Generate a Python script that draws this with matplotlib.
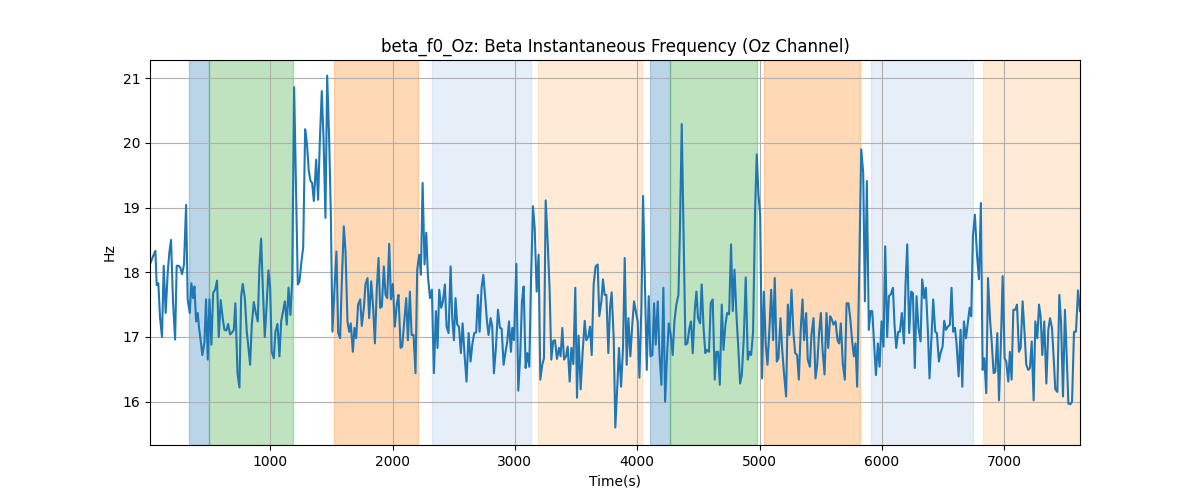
import matplotlib
matplotlib.use("Agg")
import matplotlib.pyplot as plt

time_s = [
    21, 48, 62, 73, 86, 100, 116, 130, 146, 163, 176, 190, 206, 223, 236, 253, 266, 280, 296, 313,
    326, 343, 356, 370, 381, 395, 408, 419, 433, 446, 463, 476, 490, 504, 520, 534, 550, 566, 580, 596,
    613, 626, 643, 656, 673, 689, 703, 716, 733, 749, 763, 776, 793, 809, 823, 836, 850, 866, 883, 899,
    912, 926,
    940, 956, 970, 986, 1000, 1013, 1030, 1043, 1060, 1076, 1090, 1106, 1120, 1136, 1150, 1166, 1180, 1196, 1212, 1226,
    1240, 1256, 1270, 1286, 1300, 1316, 1330, 1343, 1357, 1376, 1392, 1406, 1422, 1436, 1452, 1466, 1482, 1496, 1509, 1526,
    1542, 1556, 1572, 1586, 1602, 1616, 1632, 1646, 1659, 1676, 1689, 1703, 1719, 1736, 1749, 1766, 1779, 1796, 1809, 1826,
    1842, 1856, 1872,
    1886, 1899, 1913, 1929, 1943, 1957, 1973, 1987, 2003, 2019, 2036, 2049, 2066, 2079, 2096, 2112, 2126, 2142, 2156, 2172,
    2188, 2202, 2218, 2232, 2246, 2262, 2276, 2289, 2306, 2322, 2338, 2355, 2368, 2382, 2398, 2412, 2428, 2442, 2458, 2475,
    2488, 2502, 2515, 2529, 2543, 2559, 2573, 2589, 2605, 2622, 2638, 2652, 2668, 2684, 2698, 2712, 2728, 2742, 2758, 2772,
    2785, 2802, 2815,
    2829, 2845, 2862, 2878, 2892, 2908, 2924, 2938, 2952, 2968, 2979, 2993, 3012, 3028, 3044, 3058, 3072, 3088, 3102, 3118,
    3132, 3148, 3162, 3178, 3194, 3208, 3224, 3238, 3252, 3268, 3284, 3298, 3314, 3328, 3344, 3361, 3374, 3388, 3402, 3418,
    3432, 3448, 3462, 3478, 3494, 3508, 3521, 3538, 3554, 3571, 3584, 3600, 3614, 3628, 3644, 3660, 3677, 3690, 3707, 3720,
    3734, 3748, 3764,
    3778, 3791, 3808, 3821, 3838, 3851, 3868, 3884, 3898, 3914, 3928, 3944, 3958, 3974, 3988, 4004, 4018, 4034, 4048, 4064,
    4078, 4094, 4108, 4124, 4138, 4151, 4168, 4181, 4198, 4214, 4228, 4244, 4258, 4274, 4290, 4304, 4320, 4337, 4350, 4364,
    4380, 4394, 4410, 4427, 4440, 4454, 4470, 4484, 4497, 4514, 4527, 4544, 4557, 4571, 4587, 4601, 4617, 4634, 4647, 4661,
    4675, 4691, 4705, 4721, 4735, 4751, 4767, 4781, 4795, 4811, 4825, 4841, 4855, 4871, 4887, 4904, 4917, 4931, 4947, 4964,
    4977, 4991, 5005, 5021, 5035, 5051, 5065, 5081, 5095, 5111, 5124, 5141, 5154, 5171, 5184, 5201, 5217, 5231, 5244, 5261,
    5277, 5291, 5307, 5321, 5337, 5351, 5364, 5381, 5394, 5411, 5424, 5441, 5457, 5471, 5487, 5501, 5514, 5531, 5547, 5561,
    5577, 5591, 5604,
    5621, 5637, 5651, 5664, 5681, 5697, 5711, 5727, 5741, 5757, 5771, 5784, 5798, 5814, 5831, 5847, 5861, 5877, 5893, 5907,
    5921, 5937, 5951, 5967, 5981, 5997, 6013, 6027, 6043, 6057, 6073, 6090, 6103, 6117, 6133, 6147, 6163, 6180, 6193, 6207,
    6223, 6239, 6253, 6269, 6283, 6299, 6316, 6329, 6346, 6359, 6376, 6389, 6406, 6419, 6436, 6449, 6466, 6479, 6496, 6509,
    6523, 6539, 6556,
    6569, 6583, 6597, 6610, 6627, 6643, 6657, 6670, 6687, 6700, 6717, 6730, 6744, 6760, 6777, 6793, 6809, 6823, 6837, 6853,
    6867, 6883, 6897, 6913, 6927, 6943, 6957, 6973, 6987, 7003, 7016, 7033, 7046, 7060, 7074, 7090, 7104, 7120, 7134, 7150,
    7166, 7180, 7196, 7210, 7224, 7240, 7254, 7270, 7284, 7297, 7311, 7327, 7344, 7360, 7374, 7390, 7404, 7417, 7434, 7450,
    7464, 7480, 7496, 7510, 7524, 7540, 7554, 7570, 7586, 7603, 7619,
]

beta_hz = [
    18.14, 18.27, 18.33, 17.8, 17.83, 17.3, 17.0, 18.1, 17.37, 18.0, 18.3, 18.5, 17.55, 16.96, 18.1, 18.1, 18.07, 17.97, 18.12, 19.04,
    17.58, 17.37, 17.83, 17.6, 17.78, 17.24, 17.37, 17.14, 16.93, 16.72, 16.92, 17.58, 16.65, 17.58, 16.88, 17.68, 17.73, 17.87, 17.0, 17.57,
    17.28, 17.11, 17.1, 17.2, 17.04, 17.07, 17.11, 17.52, 16.44, 16.22, 17.63, 17.82, 17.6, 17.08, 16.83, 16.57, 17.19, 17.54, 17.37, 17.24,
    18.07, 18.52,
    17.76, 17.0, 17.45, 18.03, 17.76, 16.77, 16.67, 17.08, 17.2, 16.7, 17.24, 17.4, 17.55, 17.19, 17.76, 17.34, 17.86, 20.86, 19.2, 17.81,
    17.86, 18.17, 18.38, 20.21, 20.0, 19.56, 19.41, 19.38, 19.1, 19.74, 19.12, 20.03, 20.8, 20.08, 18.84, 21.04, 20.08, 18.9, 17.08, 17.76,
    18.32, 17.06, 16.98, 17.86, 18.71, 18.32, 17.24, 17.08, 17.21, 16.77, 17.14, 16.98, 17.5, 17.58, 17.17, 17.45, 17.81, 17.91, 17.29, 17.86,
    17.45, 16.9, 17.76,
    18.22, 17.45, 17.47, 18.09, 17.65, 17.6, 18.44, 17.58, 17.82, 17.16, 17.52, 17.65, 16.83, 16.85, 17.24, 17.6, 16.95, 17.7, 17.03, 17.03,
    16.44, 18.04, 18.27, 17.96, 19.38, 18.12, 18.61, 17.96, 17.6, 17.73, 16.44, 17.4, 16.83, 17.73, 17.45, 17.55, 17.81, 17.16, 17.06, 18.09,
    17.29, 16.95, 17.6, 17.19, 17.16, 16.75, 17.21, 16.72, 16.31, 17.06, 16.62, 16.88, 17.06, 17.07, 17.65, 17.08, 17.76, 17.96, 17.6, 17.24,
    17.03, 17.29, 17.16,
    16.44, 16.83, 17.42, 17.14, 17.13, 16.57, 16.77, 16.93, 17.24, 16.77, 17.14, 16.95, 18.13, 16.17, 16.72, 17.55, 17.78, 16.52, 16.75, 16.54,
    17.86, 19.02, 18.69, 17.7, 18.27, 16.34, 16.57, 16.67, 19.11, 18.48, 17.73, 16.65, 16.94, 16.95, 16.66, 16.83, 16.7, 17.14, 16.65, 16.7,
    16.85, 16.31, 16.83, 16.58, 17.76, 16.06, 17.02, 16.19, 16.77, 17.25, 16.95, 17.0, 17.16, 16.72, 17.81, 18.09, 18.12, 17.32, 17.55, 17.89,
    17.65, 17.65, 16.75,
    17.45, 17.69, 16.98, 15.6, 16.26, 16.83, 16.23, 16.83, 18.22, 16.57, 17.29, 16.7, 17.14, 17.55, 17.4, 17.24, 16.37, 17.45, 19.18, 17.76,
    16.49, 17.63, 16.7, 16.72, 17.52, 16.88, 17.55, 16.77, 16.26, 17.76, 16.0, 16.72, 17.21, 17.03, 16.72, 17.24, 17.5, 17.65, 18.74, 20.29,
    18.43, 16.88, 16.9, 17.14, 17.24, 16.75, 17.4, 17.7, 17.29, 17.21, 17.81, 17.08, 16.75, 16.8, 16.77, 17.52, 17.58, 16.34, 16.77, 16.77,
    16.26, 17.5, 16.8, 17.19, 17.37, 17.35, 18.43, 17.4, 18.04, 17.34, 16.88, 16.28, 16.41, 16.98, 17.92, 16.65, 16.77, 16.72, 17.08, 19.0,
    19.82, 19.2, 18.89, 16.36, 17.7, 16.88, 16.57, 17.14, 17.73, 16.95, 17.91, 16.62, 16.67, 17.29, 16.83, 16.41, 16.08, 17.5, 17.03, 17.73,
    17.06, 16.75, 16.72, 16.34, 17.14, 17.58, 16.95, 17.37, 16.65, 16.54, 17.03, 17.29, 16.36, 16.57, 17.08, 17.37, 16.83, 16.42, 17.37, 16.83,
    17.32, 17.27, 17.19,
    17.24, 16.95, 16.9, 17.21, 16.57, 16.34, 17.52, 17.52, 17.29, 16.93, 16.7, 16.9, 16.23, 17.96, 19.9, 19.54, 17.55, 19.41, 17.11, 17.4,
    17.4, 16.88, 16.41, 16.9, 16.54, 17.24, 16.85, 18.4, 17.0, 17.63, 17.66, 17.76, 17.19, 16.83, 17.08, 17.08, 17.37, 16.9, 17.81, 18.43,
    17.06, 17.7, 17.68, 16.52, 17.63, 17.14, 16.93, 17.89, 17.6, 17.76, 17.08, 16.36, 17.03, 17.58, 17.08, 17.06, 16.62, 16.75, 16.85, 17.25,
    17.11, 17.16, 17.19,
    17.76, 17.08, 17.14, 16.9, 16.39, 17.11, 16.23, 17.24, 16.98, 17.19, 17.45, 17.32, 18.56, 18.89, 18.27, 17.89, 19.07, 16.49, 16.67, 16.13,
    17.91, 17.29, 16.93, 16.44, 16.46, 17.06, 16.02, 16.95, 17.94, 16.67, 16.62, 16.31, 16.77, 16.34, 17.42, 17.42, 17.5, 16.77, 16.83, 17.55,
    17.06, 16.57, 16.49, 16.52, 16.93, 16.02, 17.24, 16.98, 17.5, 17.32, 16.72, 17.24, 16.28, 17.11, 17.29, 17.14, 16.67, 16.19, 16.15, 17.65,
    17.24, 16.08, 17.42, 16.72, 15.97, 15.96, 16.0, 17.08, 17.08, 17.72, 17.4,
]

span_starts = [340, 504, 1518, 2322, 3189, 4102, 4266, 5035, 5910, 6828]
span_ends = [504, 1185, 2210, 3134, 4042, 4266, 4975, 5825, 6741, 7700]
span_colors = ["tab:blue", "tab:green", "tab:orange", "#aec7e8", "#ffbb78",
               "tab:blue", "tab:green", "tab:orange", "#aec7e8", "#ffbb78"]

fig, ax = plt.subplots(figsize=(12, 5), dpi=100)

for s, e, c in zip(span_starts, span_ends, span_colors):
    ax.axvspan(s, e, color=c, alpha=0.3)

ax.plot(time_s, beta_hz, color="tab:blue", linewidth=1.5)

ax.set_xlim(time_s[0] - 3, time_s[-1])
ax.set_ylim(15.33, 21.28)
ax.set_title("beta_f0_Oz: Beta Instantaneous Frequency (Oz Channel)")
ax.set_xlabel("Time(s)")
ax.set_ylabel("Hz")
ax.grid(True)

fig.savefig("out.png", dpi=100)
